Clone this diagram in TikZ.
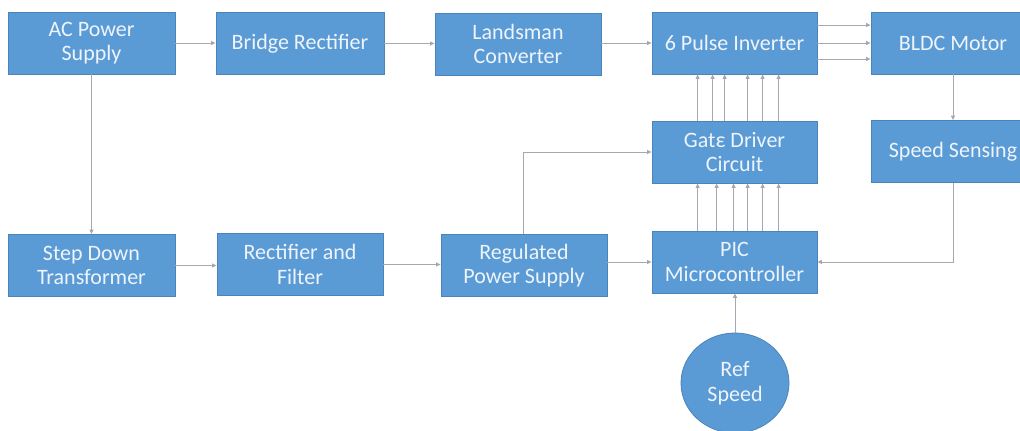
\documentclass[tikz,border=0pt]{standalone}
\usepackage{fontspec}
\setmainfont{Carlito}
\usetikzlibrary{arrows.meta,shapes.geometric}
\definecolor{boxfill}{HTML}{5B9BD5}
\definecolor{boxline}{HTML}{4A84BC}
\definecolor{linegray}{HTML}{A3A9B0}
\definecolor{txt}{HTML}{EEF4FB}
\tikzset{
  blk/.style={draw=boxline, line width=0.8pt, fill=boxfill, text=txt, align=center,
    minimum width=#1, minimum height=62pt, inner sep=0pt,
    font=\fontsize{22}{24.5}\selectfont},
  blk/.default=166pt,
  conn/.style={draw=linegray, line width=1pt, -{Triangle[length=4.5pt,width=4pt]}},
}
\begin{document}
\begin{tikzpicture}[x=1pt,y=-1pt]
\useasboundingbox (0,0) rectangle (1020,431);
\fill[white] (0,0) rectangle (1020,431);
\clip (0,0) rectangle (1020,431);
% top row
\node[blk=167pt] (ac) at (91.5,43) {AC Power\\Supply};
\node[blk=168pt] (br) at (300,43.5) {Bridge Rectifier};
\node[blk=166pt] (ls) at (518,44) {Landsman\\Converter};
\node[blk=165pt] (inv) at (734.5,43) {6 Pulse Inverter};
\node[blk=164pt] (bldc) at (953,43) {BLDC Motor};
% middle row
\node[blk=165pt] (gd) at (734.5,152) {Gatε Driver\\Circuit};
\node[blk=164pt] (ss) at (953,151.5) {Speed Sensing};
% bottom row
\node[blk=167pt] (sd) at (91.5,265.5) {Step Down\\Transformer};
\node[blk=166pt] (rf) at (300,264.5) {Rectifier and\\Filter};
\node[blk=166pt] (rps) at (524,265.5) {Regulated\\Power Supply};
\node[blk=165pt] (pic) at (734.5,262) {PIC\\Microcontroller};
\node[ellipse, draw=boxline, line width=0.8pt, fill=boxfill, text=txt, align=center,
  minimum width=108pt, minimum height=100pt, inner sep=0pt,
  font=\fontsize{22}{24.5}\selectfont] (ref) at (735,383) {Ref\\Speed};
% connectors top row
\draw[conn] (ac.east) -- (br.west |- ac.east);
\draw[conn] (br.east) -- (ls.west |- br.east);
\draw[conn] (ls.east |- inv.west) -- (inv.west);
\draw[conn] ([yshift=-16pt]inv.east) -- ([yshift=-16pt]bldc.west);
\draw[conn] (inv.east) -- (bldc.west);
\draw[conn] ([yshift=18pt]inv.east) -- ([yshift=18pt]bldc.west);
\draw[conn] (bldc.south) -- (ss.north);
% left column and bottom row
\draw[conn] (ac.south) -- (sd.north);
\draw[conn] (sd.east) -- (rf.west |- sd.east);
\draw[conn] (rf.east) -- (rps.west |- rf.east);
\draw[conn] (rps.east |- pic.west) -- (pic.west);
\draw[conn] ([xshift=-1pt]rps.north) |- (gd.west);
\draw[conn] (ss.south) |- (pic.east);
\draw[conn] (ref.north) -- (pic.south -| ref.north);
% gate driver to inverter
\foreach \d in {46,61,73,96,111,127}{
  \draw[conn] ([xshift=\d pt]gd.north west) -- ([xshift=\d pt]inv.south west);
}
% pic to gate driver
\foreach \d in {46,65,82,96,111,127}{
  \draw[conn] ([xshift=\d pt]pic.north west) -- ([xshift=\d pt]gd.south west);
}
\end{tikzpicture}
\end{document}
